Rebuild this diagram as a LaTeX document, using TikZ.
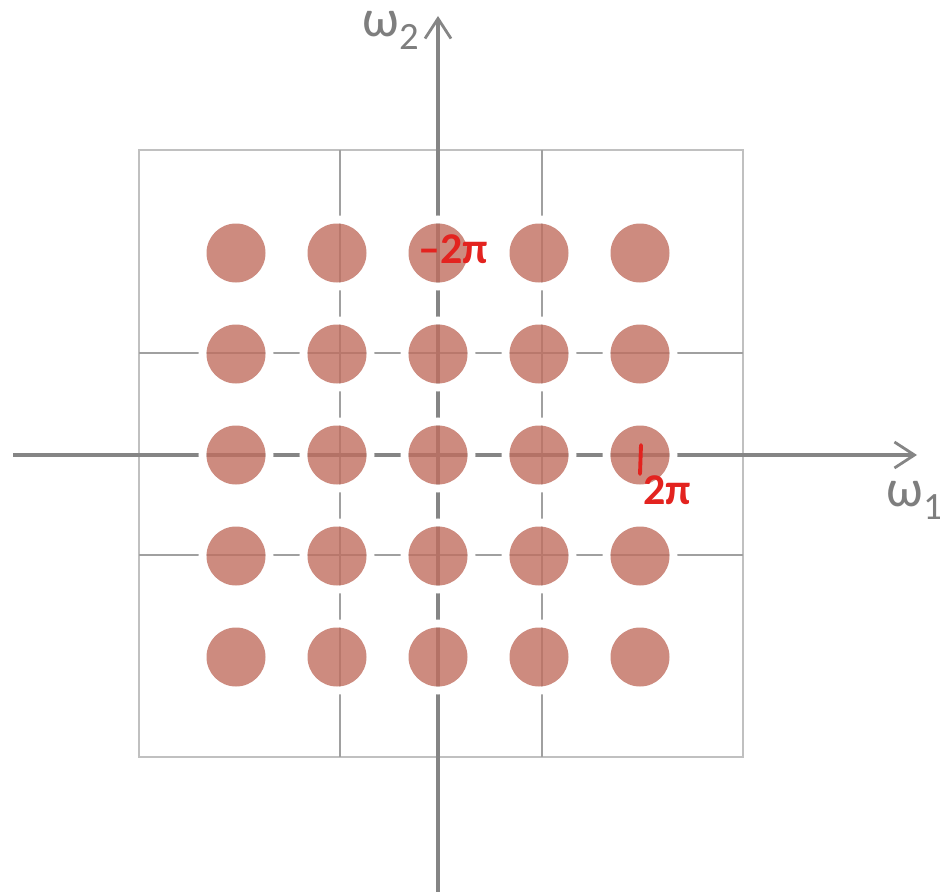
\documentclass[tikz,border=0pt]{standalone}
\usepackage{fontspec}
\setmainfont{Carlito}
\usepackage{xcolor}
\usetikzlibrary{arrows.meta}
\definecolor{axisgrey}{HTML}{858585}
\definecolor{boxgrey}{HTML}{C0C0C0}
\definecolor{cellgrey}{HTML}{A0A0A0}
\definecolor{dotrose}{HTML}{C06E5F}
\definecolor{penred}{HTML}{E3231F}
\definecolor{labelgrey}{HTML}{7E7E7E}

% omega with a lowered index, as on the axes
\newcommand{\omegalabel}[1]{{\fontsize{30}{30}\selectfont ω}\raisebox{-7.4pt}{\fontsize{22}{22}\selectfont #1}}

\begin{document}
\begin{tikzpicture}[x=0.02cm, y=0.02cm]
  % --- constants, in pixels of the reference (y measured downwards) -------
  \def\cx{438}   % vertical axis
  \def\cy{455}   % horizontal axis
  \def\pt{101}   % dot pitch, half a grid cell
  \def\dr{29.5}  % dot radius
  \def\gl{139} \def\gr{743} \def\gt{150} \def\gb{757}   % outer box

  \tikzset{
    outerbox/.style={draw=boxgrey, line width=1.1pt},
    cellline/.style={draw=cellgrey, line width=1.2pt},
    axis/.style={draw=axisgrey, line width=1.8pt,
      -{Straight Barb[length=0.4cm, width=0.52cm, line width=1.6pt]}},
    halo/.style={draw=white, line width=0.16cm},
    dot/.style={fill=dotrose, fill opacity=0.8},
    axlbl/.style={text=labelgrey, inner sep=0pt, anchor=base west},
    pen/.style={text=penred, font=\fontsize{25}{25}\selectfont\bfseries, inner sep=0pt},
    penline/.style={draw=penred, line width=2.2pt, line cap=round}}

  \useasboundingbox (0,0) rectangle (940,-892);

  % ---- 1. the period cells ------------------------------------------------
  \draw[outerbox] (\gl,-\gt) rectangle (\gr,-\gb);
  \foreach \x in {340,542}
    \draw[cellline] (\x,-\gt) -- (\x,-\gb);
  \foreach \y in {353,555}
    \draw[cellline] (\gl,-\y) -- (\gr,-\y);

  % ---- 2. the axes ----------------------------------------------------------
  \coordinate (w1start) at (13,-\cy);
  \coordinate (w1end)   at (917,-\cy);
  \coordinate (w2start) at (\cx,-892);
  \coordinate (w2end)   at (\cx,-16);
  \draw[axis] (w1start) -- (w1end);
  \draw[axis] (w2start) -- (w2end);
  \node[axlbl] (w1lbl) at (886,-506) {\omegalabel{1}};
  \node[axlbl] (w2lbl) at (362,-37)  {\omegalabel{2}};

  % ---- 3. the replicated spectra -------------------------------------------
  % white rings first, so the lines break just short of every dot
  \foreach \i in {-2,...,2}{
    \foreach \j in {-2,...,2}{
      \draw[halo] (\cx+\i*\pt,-\cy-\j*\pt) circle (\dr+4);}}
  \foreach \i in {-2,...,2}{
    \foreach \j in {-2,...,2}{
      \fill[dot] (\cx+\i*\pt,-\cy-\j*\pt) circle (\dr);}}

  % ---- 4. the pen marks ------------------------------------------------------
  \node[pen] (mtwopi) at (453,-249) {–2π};
  \draw[penline] (641,-445) -- (640,-474);
  \node[pen] (twopi) at (667,-490) {2π};
\end{tikzpicture}
\end{document}
